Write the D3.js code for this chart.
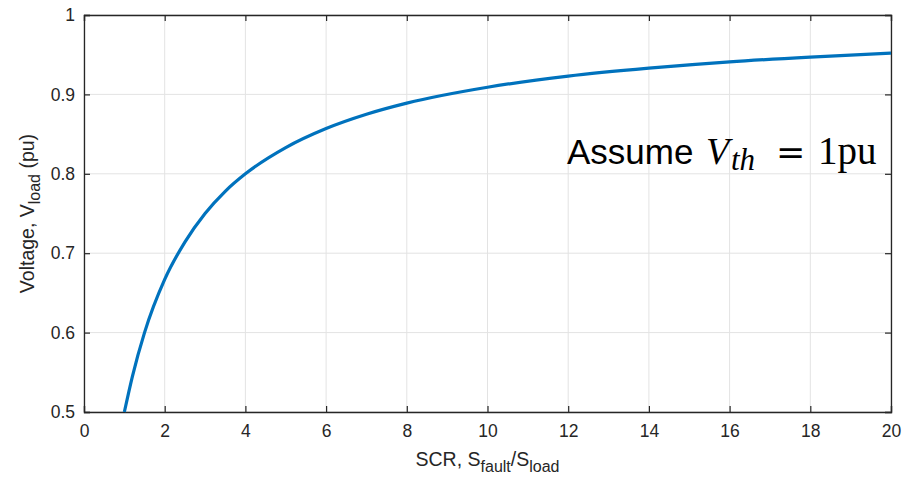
<!DOCTYPE html>
<html>
<head>
<meta charset="utf-8">
<script src="https://cdn.jsdelivr.net/npm/d3@7"></script>
<style>
  body { margin: 0; background: #fff; }
  svg { display: block; font-family: "Liberation Sans", Arial, sans-serif; }
</style>
</head>
<body>
<svg id="chart" width="904" height="477"></svg>
<script>
// values (SCR vs load voltage in pu)
const scr     = [1, 1.2, 1.5, 2, 2.5, 3, 3.5, 4, 5, 6, 7, 8, 10, 12, 14, 16, 18, 20];
const voltage = [0.5, 0.545, 0.6, 0.667, 0.714, 0.75, 0.778, 0.8, 0.833, 0.857, 0.875, 0.889, 0.909, 0.923, 0.933, 0.941, 0.947, 0.952];
const xTicks  = [0, 2, 4, 6, 8, 10, 12, 14, 16, 18, 20];
const yTicks  = [0.5, 0.6, 0.7, 0.8, 0.9, 1];

const svg = d3.select('#chart');
const m = { left: 84, right: 891, top: 15, bottom: 412 };
const axisCol = '#262626';
const serif = '"Liberation Serif", "DejaVu Serif", serif';

const x = d3.scaleLinear().domain([0, 20]).range([m.left, m.right]);
const y = d3.scaleLinear().domain([0.5, 1]).range([m.bottom, m.top]);

// grid
svg.append('g').selectAll('line').data(xTicks).join('line')
  .attr('x1', d => x(d)).attr('x2', d => x(d))
  .attr('y1', m.top).attr('y2', m.bottom)
  .attr('stroke', '#e3e3e3').attr('stroke-width', 1);
svg.append('g').selectAll('line').data(yTicks).join('line')
  .attr('x1', m.left).attr('x2', m.right)
  .attr('y1', d => y(d)).attr('y2', d => y(d))
  .attr('stroke', '#e3e3e3').attr('stroke-width', 1);

// axes with inward ticks on all four sides
const tk = 6;
svg.append('g').attr('transform', `translate(0,${m.bottom})`)
  .call(d3.axisBottom(x).tickValues(xTicks).tickSize(-tk).tickPadding(13).tickFormat(d3.format('d')));
svg.append('g').attr('transform', `translate(0,${m.top})`)
  .call(d3.axisTop(x).tickValues(xTicks).tickSize(-tk).tickFormat(''));
svg.append('g').attr('transform', `translate(${m.left},0)`)
  .call(d3.axisLeft(y).tickValues(yTicks).tickSize(-tk).tickPadding(9).tickFormat(d => d === 1 ? '1' : d3.format('.1f')(d)));
svg.append('g').attr('transform', `translate(${m.right},0)`)
  .call(d3.axisRight(y).tickValues(yTicks).tickSize(-tk).tickFormat(''));

svg.selectAll('.domain').attr('stroke', axisCol).attr('stroke-width', 1.3);
svg.selectAll('.tick line').attr('stroke', axisCol).attr('stroke-width', 1.2);
svg.selectAll('.tick text').attr('fill', axisCol).style('font-size', '17.5px')
  .style('font-family', '"Liberation Sans", Arial, sans-serif');

// curve
const line = d3.line()
  .x((d, i) => x(scr[i]))
  .y(d => y(d))
  .curve(d3.curveMonotoneX);
svg.append('path').datum(voltage)
  .attr('d', line)
  .attr('fill', 'none')
  .attr('stroke', '#0072BD')
  .attr('stroke-width', 3.2);

// axis labels
const xl = svg.append('text')
  .attr('x', (m.left + m.right) / 2).attr('y', 466)
  .attr('text-anchor', 'middle').attr('fill', axisCol).style('font-size', '19.5px');
xl.append('tspan').text('SCR, S');
xl.append('tspan').text('fault').attr('dy', 6).style('font-size', '16px');
xl.append('tspan').text('/S').attr('dy', -6);
xl.append('tspan').text('load').attr('dy', 6).style('font-size', '16px');

const yl = svg.append('text')
  .attr('transform', `translate(34,${(m.top + m.bottom) / 2}) rotate(-90)`)
  .attr('text-anchor', 'middle').attr('fill', axisCol).style('font-size', '19.5px');
yl.append('tspan').text('Voltage, V');
yl.append('tspan').text('load').attr('dy', 6).style('font-size', '16px');
yl.append('tspan').text('\u00a0(pu)').attr('dy', -6);

// annotation
const ann = svg.append('text').attr('y', 164).attr('fill', '#000');
ann.append('tspan').attr('x', 567).text('Assume').style('font-size', '35px')
  .style('font-family', '"Liberation Sans", Arial, sans-serif');
ann.append('tspan').attr('x', 706).text('V').style('font-size', '38px')
  .style('font-family', serif).style('font-style', 'italic');
ann.append('tspan').attr('x', 731).text('th').attr('dy', 6).style('font-size', '31px')
  .style('font-family', serif).style('font-style', 'italic');
ann.append('tspan').attr('x', 776).text('=').attr('dy', -6).style('font-size', '35px')
  .style('font-family', '"DejaVu Serif", serif');
ann.append('tspan').attr('x', 818).text('1pu').style('font-size', '39px')
  .style('font-family', serif);
</script>
</body>
</html>
